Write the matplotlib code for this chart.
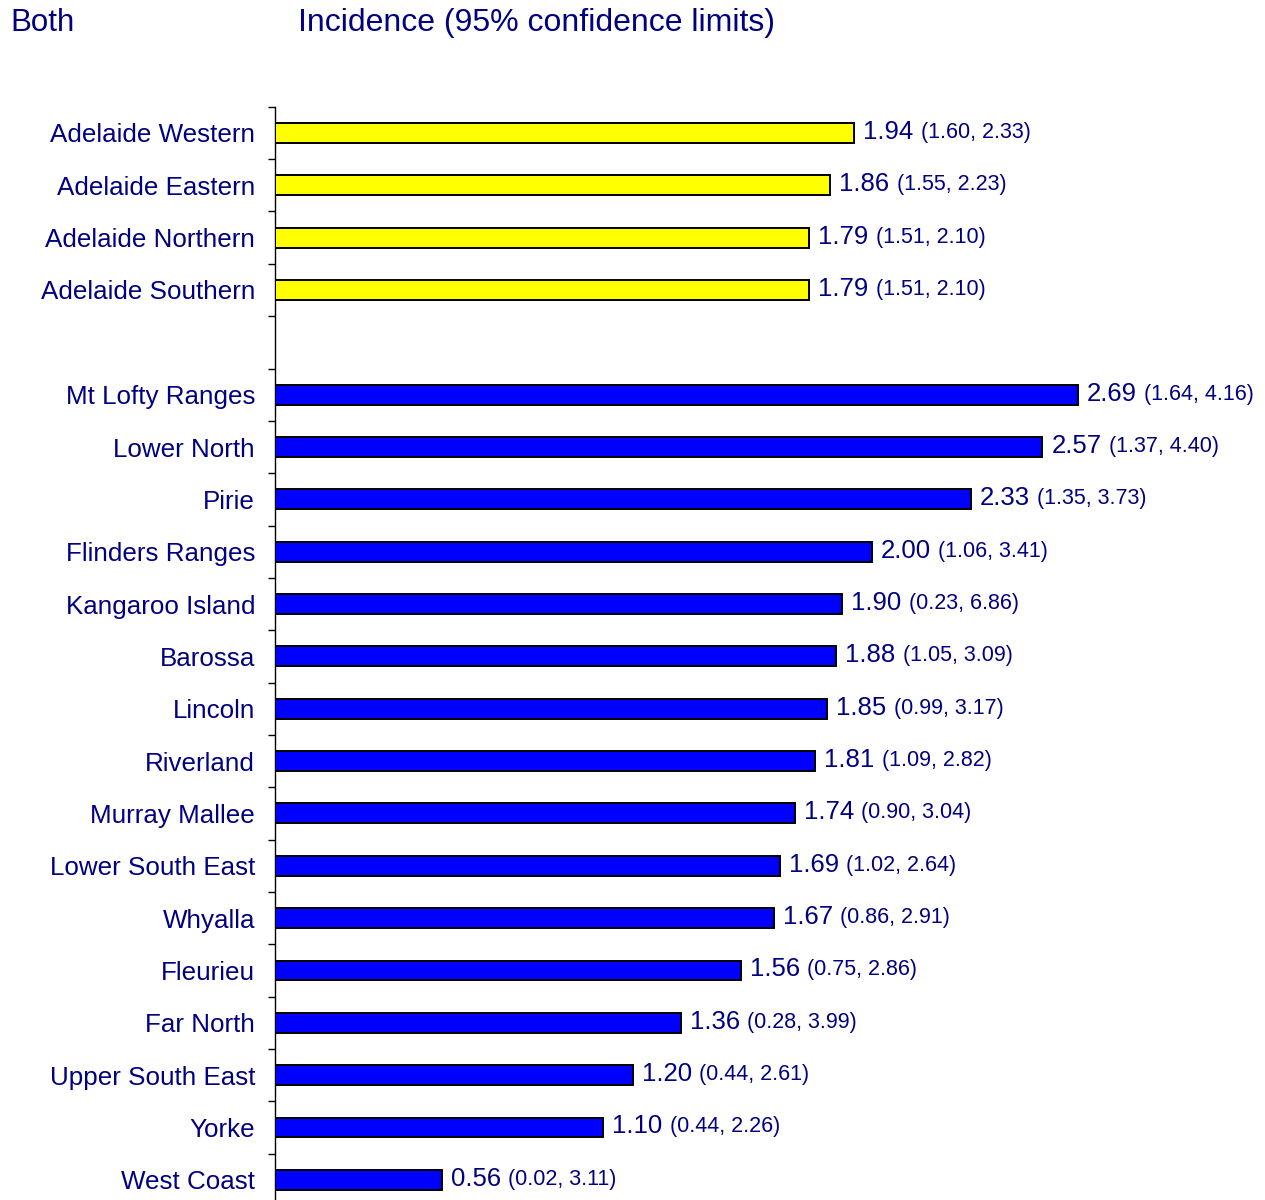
import matplotlib
matplotlib.use("Agg")
import matplotlib.pyplot as plt

plt.rcParams['font.family'] = ['Liberation Sans', 'DejaVu Sans']

metro_regions = ["Adelaide Western", "Adelaide Eastern", "Adelaide Northern", "Adelaide Southern"]
metro_values = [1.94, 1.86, 1.79, 1.79]
metro_lower = [1.60, 1.55, 1.51, 1.51]
metro_upper = [2.33, 2.23, 2.10, 2.10]

country_regions = ["Mt Lofty Ranges", "Lower North", "Pirie", "Flinders Ranges", "Kangaroo Island",
                   "Barossa", "Lincoln", "Riverland", "Murray Mallee", "Lower South East",
                   "Whyalla", "Fleurieu", "Far North", "Upper South East", "Yorke", "West Coast"]
country_values = [2.69, 2.57, 2.33, 2.00, 1.90, 1.88, 1.85, 1.81, 1.74, 1.69, 1.67, 1.56, 1.36, 1.20, 1.10, 0.56]
country_lower = [1.64, 1.37, 1.35, 1.06, 0.23, 1.05, 0.99, 1.09, 0.90, 1.02, 0.86, 0.75, 0.28, 0.44, 0.44, 0.02]
country_upper = [4.16, 4.40, 3.73, 3.41, 6.86, 3.09, 3.17, 2.82, 3.04, 2.64, 2.91, 2.86, 3.99, 2.61, 2.26, 3.11]

navy = "#000080"
W, H = 1265, 1200
fig = plt.figure(figsize=(W / 100, H / 100), dpi=100)

left_px, right_px = 275, 1265
top_px, bot_px = 106.8, 1206.0
ax = fig.add_axes([left_px / W, 1 - bot_px / H, (right_px - left_px) / W, (bot_px - top_px) / H])

px_per_unit = 298.6
ax.set_xlim(0, (right_px - left_px) / px_per_unit)

metro_pos = list(range(len(metro_regions)))
country_pos = [len(metro_regions) + 1 + i for i in range(len(country_regions))]
n_slots = len(metro_regions) + 1 + len(country_regions)
ax.set_ylim(n_slots - 0.5, -0.5)

bh = 0.38
ax.barh(metro_pos, metro_values, height=bh, color="#FFFF00", edgecolor="black", linewidth=1.4, zorder=3)
ax.barh(country_pos, country_values, height=bh, color="#0000FF", edgecolor="black", linewidth=1.4, zorder=3)

for s in ["top", "right", "bottom"]:
    ax.spines[s].set_visible(False)
ax.spines["left"].set_linewidth(1.0)
ax.set_xticks([])

ax.set_yticks(metro_pos + country_pos)
ax.set_yticklabels(metro_regions + country_regions)
ax.tick_params(axis="y", which="major", length=0, pad=14.4, labelsize=18.7, labelcolor=navy)
ax.set_yticks([p - 0.5 for p in range(n_slots + 1)], minor=True)
ax.tick_params(axis="y", which="minor", length=5, width=1.0, direction="out", color="black")

for pos, v, lo, hi in zip(metro_pos + country_pos,
                          metro_values + country_values,
                          metro_lower + country_lower,
                          metro_upper + country_upper):
    t1 = ax.annotate(f"{v:.2f}", xy=(v, pos), xytext=(9, 1), textcoords="offset pixels",
                     ha="left", va="center", fontsize=18.5, color=navy)
    ax.annotate(f"({lo:.2f}, {hi:.2f})", xy=(1, 0), xycoords=t1, xytext=(7, 1.0),
                textcoords="offset pixels", ha="left", va="bottom", fontsize=15.5, color=navy)

fig.text(10 / W, 1 - 23 / H, "Both", ha="left", va="center", fontsize=22.5, color=navy)
fig.text(298 / W, 1 - 23 / H, "Incidence (95% confidence limits)", ha="left", va="center",
         fontsize=23, color=navy)

fig.savefig("out.png", dpi=100)
